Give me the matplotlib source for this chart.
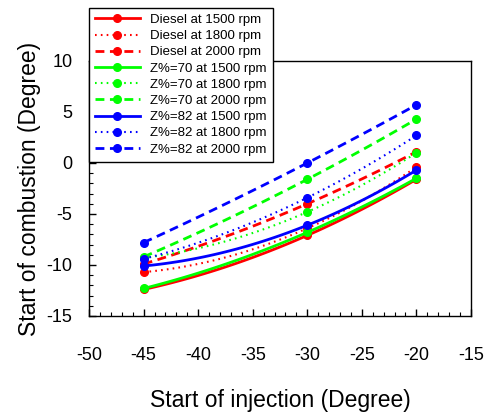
import numpy as np
import matplotlib
matplotlib.use('Agg')
import matplotlib.pyplot as plt
from matplotlib.ticker import MultipleLocator

plt.rcParams['font.family'] = ['Liberation Sans', 'DejaVu Sans']
plt.rcParams['axes.unicode_minus'] = False

# start of injection (degree)
injection = [-45, -30, -20]

# start of combustion (degree)
diesel_1500 = [-12.4, -7.1, -1.6]
diesel_1800 = [-10.7, -6.4, -0.4]
diesel_2000 = [-9.9, -4.0, 1.1]
z70_1500 = [-12.3, -6.8, -1.5]
z70_1800 = [-9.3, -4.8, 1.0]
z70_2000 = [-9.2, -1.6, 4.3]
z82_1500 = [-10.1, -6.1, -0.7]
z82_1800 = [-9.4, -3.4, 2.7]
z82_2000 = [-7.8, 0.0, 5.7]

labels = ['Diesel at 1500 rpm', 'Diesel at 1800 rpm', 'Diesel at 2000 rpm',
          'Z%=70 at 1500 rpm', 'Z%=70 at 1800 rpm', 'Z%=70 at 2000 rpm',
          'Z%=82 at 1500 rpm', 'Z%=82 at 1800 rpm', 'Z%=82 at 2000 rpm']
series = [diesel_1500, diesel_1800, diesel_2000,
          z70_1500, z70_1800, z70_2000,
          z82_1500, z82_1800, z82_2000]
colors = ['#ff0000'] * 3 + ['#00ff00'] * 3 + ['#0000ff'] * 3

solid = '-'
dotted = (0, (0.8, 2.0))
dashed = (0, (3.2, 2.0))
styles = [solid, dotted, dashed] * 3
widths = [2, 1.5, 2] * 3


def smooth_line(ax, x, y, color, ls, lw, label):
    ''' smooth curve through the points (like the original's smoothed lines) '''
    coef = np.polyfit(x, y, 2)
    xs = np.linspace(x[0], x[-1], 51)
    marks = [int(round((xi - x[0]) / (x[-1] - x[0]) * 50)) for xi in x]
    ax.plot(xs, np.polyval(coef, xs), color=color, linestyle=ls, linewidth=lw,
            marker='o', markersize=5.5, markevery=marks, label=label)


fig = plt.figure(figsize=(4.87, 4.16), dpi=100)
ax = fig.add_axes([0.183, 0.2404, 0.784, 0.613])

for ys, c, ls, lw, lab in zip(series, colors, styles, widths, labels):
    smooth_line(ax, injection, ys, c, ls, lw, lab)

ax.set_xlim(-50, -15)
ax.set_ylim(-15, 10)
ax.xaxis.set_major_locator(MultipleLocator(5))
ax.xaxis.set_minor_locator(MultipleLocator(1))
ax.yaxis.set_major_locator(MultipleLocator(5))
ax.yaxis.set_minor_locator(MultipleLocator(1))
ax.tick_params(which='both', direction='in', top=False, right=False,
               labelsize=13)
ax.tick_params(which='major', length=5, width=1)
ax.tick_params(which='minor', length=3, width=0.8)
ax.tick_params(axis='x', which='major', pad=22)
ax.tick_params(axis='y', which='major', pad=12)
for sp in ax.spines.values():
    sp.set_linewidth(1)

ax.set_xlabel('Start of injection (Degree)', fontsize=16.5, labelpad=18)
ax.set_ylabel('Start of combustion (Degree)', fontsize=16.5, labelpad=4)

leg = fig.legend(loc='upper left', bbox_to_anchor=(0.183, 0.981),
                 fontsize=9.5, numpoints=1, handlelength=3.4,
                 labelspacing=0.3, borderaxespad=0, fancybox=False,
                 framealpha=1, edgecolor='black', borderpad=0.45,
                 handletextpad=0.8)
leg.get_frame().set_linewidth(1)

fig.savefig('out.png', dpi=100)
